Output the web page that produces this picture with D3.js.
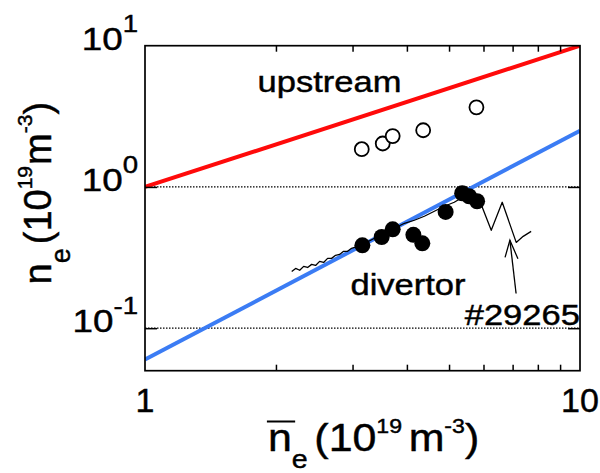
<!DOCTYPE html>
<html><head><meta charset="utf-8">
<script src="https://cdn.jsdelivr.net/npm/d3@7"></script>
<style>html,body{margin:0;padding:0;background:#fff;} svg{display:block;font-family:"Liberation Sans",Arial,Helvetica,sans-serif;} svg text{stroke:#000;stroke-width:0.45px;}</style>
</head><body><svg id="c" width="600" height="473"></svg>
<script>
// ---------- data ----------
const xTickVals = [1, 10];
const xTickLabels = ["1", "10"];
const xMinorTicks = [2, 3, 4, 5, 6, 7, 8, 9];
const yTickVals = [0.1, 1, 10];
const yTickExps = ["-1", "0", "1"];
const yMajorTicks = [0.1, 1];
const gridY = [0.1, 1];

const fitX = [1, 10];
const upstreamFitY = [1, 10];
const divertorFitY = [0.06, 2.5];

const upstreamX = [3.15, 3.52, 3.71, 4.36, 5.78];
const upstreamY = [1.85, 2.03, 2.29, 2.52, 3.66];

const divertorX = [3.16, 3.50, 3.71, 4.14, 4.34, 4.91, 5.36, 5.56, 5.80];
const divertorY = [0.386, 0.442, 0.501, 0.458, 0.399, 0.665, 0.902, 0.859, 0.792];

const traceX = [2.174, 2.220, 2.268, 2.316, 2.365, 2.416, 2.467, 2.520, 2.574, 2.629, 2.685, 2.742, 2.801, 2.861, 2.922, 2.984, 3.080, 3.196, 3.370, 3.552, 3.744, 3.948, 4.162, 4.387, 4.626, 4.876, 5.140, 5.420, 5.713, 5.961, 6.251, 6.625, 7.134, 7.403, 7.722];
const traceY = [0.252, 0.265, 0.257, 0.274, 0.269, 0.283, 0.278, 0.297, 0.292, 0.312, 0.312, 0.328, 0.333, 0.350, 0.350, 0.368, 0.380, 0.399, 0.433, 0.462, 0.510, 0.553, 0.581, 0.620, 0.673, 0.730, 0.779, 0.859, 0.805, 0.718, 0.493, 0.779, 0.405, 0.447, 0.485];

const arrowShaftX = [7.13, 6.90];
const arrowShaftY = [0.176, 0.419];
const arrowHeadX = [6.725, 6.90, 7.20];
const arrowHeadY = [0.317, 0.419, 0.310];

const labelTexts = ["upstream", "divertor", "#29265"];
const labelX = [1.815, 2.968, 5.433];
const labelY = [4.70, 0.1715, 0.1052];

// ---------- layout ----------
const W = 600, H = 473;
const L = 145, R = 580, T = 45.7, B = 370.7;
const x = d3.scaleLog().domain([1, 10]).range([L, R]);
const y = d3.scaleLog().domain([0.05, 10]).range([B, T]);
const SX = 1.15;

const svg = d3.select("#c");
svg.append("rect").attr("width", W).attr("height", H).attr("fill", "#fff");
svg.append("defs").append("clipPath").attr("id", "plotclip")
  .append("rect").attr("x", L).attr("y", T).attr("width", R - L).attr("height", B - T);
const plot = svg.append("g").attr("clip-path", "url(#plotclip)");

// dotted grid lines
plot.selectAll("line.grid").data(gridY).join("line")
  .attr("class", "grid")
  .attr("x1", L).attr("x2", R)
  .attr("y1", d => y(d)).attr("y2", d => y(d))
  .attr("stroke", "#000").attr("stroke-width", 1.2)
  .attr("stroke-dasharray", "1.5,1.5");

// fit lines
const line = d3.line().x(d => x(d[0])).y(d => y(d[1]));
plot.append("path")
  .attr("d", line(fitX.map((v, i) => [v, upstreamFitY[i]])))
  .attr("fill", "none").attr("stroke", "#ff0a0a").attr("stroke-width", 4);
plot.append("path")
  .attr("d", line(fitX.map((v, i) => [v, divertorFitY[i]])))
  .attr("fill", "none").attr("stroke", "#3b7cf4").attr("stroke-width", 4);

// shot trace
plot.append("path")
  .attr("d", line(traceX.map((v, i) => [v, traceY[i]])))
  .attr("fill", "none").attr("stroke", "#000").attr("stroke-width", 1.3)
  .attr("stroke-linejoin", "round");

// arrow
plot.append("path")
  .attr("d", line(arrowShaftX.map((v, i) => [v, arrowShaftY[i]])))
  .attr("fill", "none").attr("stroke", "#000").attr("stroke-width", 1.3);
plot.append("path")
  .attr("d", line(arrowHeadX.map((v, i) => [v, arrowHeadY[i]])))
  .attr("fill", "none").attr("stroke", "#000").attr("stroke-width", 1.3);

// markers
plot.selectAll("circle.up").data(upstreamX.map((v, i) => [v, upstreamY[i]])).join("circle")
  .attr("class", "up")
  .attr("cx", d => x(d[0])).attr("cy", d => y(d[1])).attr("r", 7)
  .attr("fill", "#fff").attr("stroke", "#000").attr("stroke-width", 1.8);
plot.selectAll("circle.div").data(divertorX.map((v, i) => [v, divertorY[i]])).join("circle")
  .attr("class", "div")
  .attr("cx", d => x(d[0])).attr("cy", d => y(d[1])).attr("r", 8)
  .attr("fill", "#000");

// frame
svg.append("rect").attr("x", L).attr("y", T).attr("width", R - L).attr("height", B - T)
  .attr("fill", "none").attr("stroke", "#000").attr("stroke-width", 1.7);

// axes ticks
function styleAxis(g) {
  g.select(".domain").remove();
  g.selectAll("line").attr("stroke", "#000").attr("stroke-width", 1.5);
  g.selectAll("text").remove();
}
svg.append("g").attr("transform", `translate(0,${B})`)
  .call(d3.axisBottom(x).tickValues(xMinorTicks).tickSize(-6).tickFormat("")).call(styleAxis);
svg.append("g").attr("transform", `translate(0,${T})`)
  .call(d3.axisTop(x).tickValues(xMinorTicks).tickSize(-6).tickFormat("")).call(styleAxis);
svg.append("g").attr("transform", `translate(${L},0)`)
  .call(d3.axisLeft(y).tickValues(yMajorTicks).tickSize(-12).tickFormat("")).call(styleAxis);
svg.append("g").attr("transform", `translate(${R},0)`)
  .call(d3.axisRight(y).tickValues(yMajorTicks).tickSize(-12).tickFormat("")).call(styleAxis);

// y tick labels
yTickVals.forEach((v, i) => {
  const g = svg.append("g").attr("transform", `translate(138,${y(v) + 4}) scale(${SX},1)`);
  const t = g.append("text").attr("text-anchor", "end").attr("font-size", 32).attr("fill", "#000");
  t.append("tspan").text("10");
  t.append("tspan").attr("font-size", 24).attr("dy", -18).text(yTickExps[i]);
});

// x tick labels
xTickVals.forEach((v, i) => {
  svg.append("text").attr("x", x(v)).attr("y", 412)
    .attr("text-anchor", "middle").attr("font-size", 34).attr("fill", "#000")
    .text(xTickLabels[i]);
});

// annotations
labelTexts.forEach((s, i) => {
  svg.append("g").attr("transform", `translate(${x(labelX[i])},${y(labelY[i])}) scale(${SX},1)`)
    .append("text").attr("font-size", 30).attr("fill", "#000").text(s);
});

// x axis title
{
  const g = svg.append("g").attr("transform", `translate(268,451) scale(1.1,1)`);
  const t = g.append("text").attr("font-size", 39).attr("fill", "#000");
  t.append("tspan").text("n");
  t.append("tspan").attr("font-size", 26).attr("dy", 16.5).text("e");
  t.append("tspan").attr("dy", -16.5).attr("dx", 6).text("(10");
  t.append("tspan").attr("font-size", 21).attr("dy", -18.5).text("19");
  t.append("tspan").attr("dy", 18.5).attr("dx", 6).text("m");
  t.append("tspan").attr("font-size", 21).attr("dy", -18.5).text("-3");
  t.append("tspan").attr("dy", 18.5).text(")");
  let x0 = -1, x1 = 24.5;
  try {
    const e = t.node().getExtentOfChar(0);
    x0 = e.x - 1; x1 = e.x + e.width + 3;
  } catch (err) {}
  g.append("line").attr("x1", x0).attr("x2", x1).attr("y1", -29.5).attr("y2", -29.5)
    .attr("stroke", "#000").attr("stroke-width", 2);
}

// y axis title
{
  const g = svg.append("g").attr("transform", `translate(51,284.4) rotate(-90)`);
  const t = g.append("text").attr("font-size", 38).attr("fill", "#000");
  t.append("tspan").text("n");
  t.append("tspan").attr("font-size", 27).attr("dy", 19).text("e");
  t.append("tspan").attr("dy", -19).attr("dx", 4).text("(10");
  t.append("tspan").attr("font-size", 21).attr("dy", -19).text("19");
  t.append("tspan").attr("dy", 19).attr("dx", 1).text("m");
  t.append("tspan").attr("font-size", 21).attr("dy", -19).text("-3");
  t.append("tspan").attr("dy", 19).text(")");
}
</script></body></html>
